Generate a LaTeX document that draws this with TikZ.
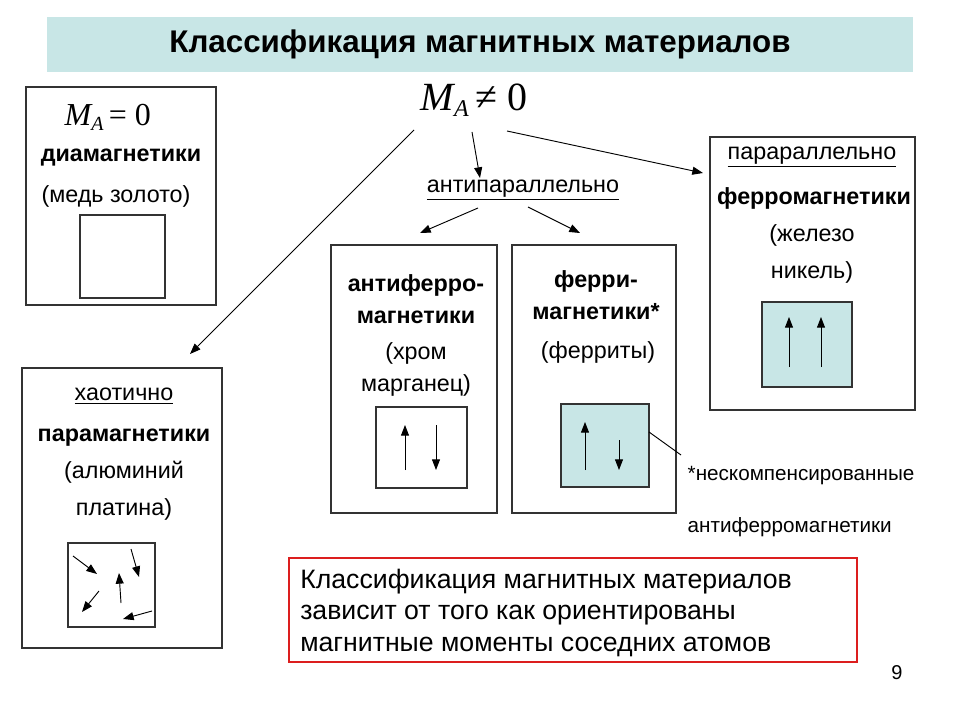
\documentclass[tikz,border=0pt]{standalone}
\usepackage{fontspec}
\setmainfont{Liberation Sans}
\newfontfamily\mathlike{Liberation Serif}
\usetikzlibrary{arrows.meta}
\definecolor{teal1}{RGB}{200,230,230}
\definecolor{redb}{RGB}{220,30,30}
\tikzset{
  box/.style={draw=black!80,line width=0.9pt},
  arr/.style={-{Triangle[length=8pt,width=6pt]},line width=0.7pt},
  lbl/.style={font=\fontsize{17.5pt}{21pt}\selectfont,align=center},
  blbl/.style={font=\bfseries\fontsize{17.5pt}{21pt}\selectfont,align=center},
}
\begin{document}
\begin{tikzpicture}[x=0.75pt,y=-0.75pt]
\useasboundingbox (0,0) rectangle (960,720);
\fill[white] (0,0) rectangle (960,720);
% title
\node[fill=teal1,minimum width=866*0.75pt,minimum height=55*0.75pt,font=\bfseries\fontsize{23.5pt}{26pt}\selectfont] (title) at (480,44.5) {Классификация магнитных материалов};
% diamagnetic
\draw[box] (26,87) rectangle (216,305);
\node[font=\mathlike\itshape\fontsize{24pt}{26pt}\selectfont,anchor=west] (m0) at (60,117) {M\raisebox{-0.35ex}{\fontsize{15pt}{15pt}\selectfont A}\,\upshape = 0};
\node[blbl] (dia) at (121,158) {диамагнетики};
\node[lbl] (diaex) at (116,196) {(медь золото)};
\draw[box] (80,215) rectangle (165,298);
% M_A != 0
\node[font=\mathlike\itshape\fontsize{30pt}{32pt}\selectfont] (ma) at (474,100) {M\raisebox{-0.35ex}{\fontsize{18pt}{18pt}\selectfont A}\,\upshape ≠ 0};
\node[lbl] (anti) at (523,190) {\underline{антипараллельно}};
\coordinate (p1) at (414,130); \coordinate (q1) at (190,354);
\coordinate (p2) at (472,132); \coordinate (q2) at (480,178);
\coordinate (p3) at (507,131); \coordinate (q3) at (703,173);
\coordinate (p4) at (478,208); \coordinate (q4) at (420,233);
\coordinate (p5) at (528,207); \coordinate (q5) at (580,233);
\draw[arr] (p1) -- (q1);
\draw[arr] (p2) -- (q2);
\draw[arr] (p3) -- (q3);
\draw[arr] (p4) -- (q4);
\draw[arr] (p5) -- (q5);
% paramagnetic
\draw[box] (22,368) rectangle (222,648);
\node[lbl] (hao) at (124,396) {\underline{хаотично}};
\node[blbl] (para) at (124,438) {парамагнетики};
\node[lbl,font=\fontsize{17.5pt}{28pt}\selectfont] (paraex) at (124,491) {(алюминий\\платина)};
\draw[box] (68,543) rectangle (155,627);
\draw[arr] (73,556) -- (97,574);
\draw[arr] (131,549) -- (139,577);
\draw[arr] (99,591) -- (82,612);
\draw[arr] (121,603) -- (119,573);
\draw[arr] (152,611) -- (123,619);
% antiferro
\draw[box] (331,245) rectangle (497,513);
\node[blbl,font=\bfseries\fontsize{17.5pt}{24pt}\selectfont] (af) at (416,299) {антиферро-\\магнетики};
\node[lbl,font=\fontsize{17.5pt}{24pt}\selectfont] (afex) at (416,369) {(хром\\марганец)};
\draw[box] (376,407) rectangle (467,488);
\draw[arr] (405,470) -- (405,425);
\draw[arr] (436,425) -- (436,470);
% ferri
\draw[box] (512,245) rectangle (676,513);
\node[blbl,font=\bfseries\fontsize{17.5pt}{24pt}\selectfont] (fi) at (596,295) {ферри-\\магнетики*};
\node[lbl] (fiex) at (598,352) {(ферриты)};
\draw[box,fill=teal1] (561,404) rectangle (649,487);
\draw[arr] (585,470) -- (585,422);
\draw[arr] (619,440) -- (619,470);
\coordinate (n1) at (649,432); \coordinate (n2) at (681,455);
\draw[line width=0.7pt] (n1) -- (n2);
\node[font=\fontsize{15.5pt}{18pt}\selectfont,anchor=west] (note1) at (683,476) {*нескомпенсированные};
\node[font=\fontsize{15.5pt}{18pt}\selectfont,anchor=west] (note2) at (683,527) {антиферромагнетики};
% ferro
\draw[box] (710,137) rectangle (915,410);
\node[lbl] (par) at (812,157) {\underline{парараллельно}};
\node[blbl] (fe) at (814,198) {ферромагнетики};
\node[lbl,font=\fontsize{17.5pt}{28pt}\selectfont] (feex) at (812,254) {(железо\\никель)};
\draw[box,fill=teal1] (762,302) rectangle (852,387);
\draw[arr] (789,367) -- (789,317);
\draw[arr] (821,367) -- (821,317);
% red box
\draw[draw=redb,line width=2pt] (289,558) rectangle (857,662);
\node[font=\fontsize{20pt}{23.5pt}\selectfont,align=left,anchor=north west,inner sep=0pt] (txt) at (300,569) {Классификация магнитных материалов\\зависит от того как ориентированы\\магнитные моменты соседних атомов};
\node[font=\fontsize{15pt}{17pt}\selectfont] (pg) at (897,673) {9};
\end{tikzpicture}
\end{document}
